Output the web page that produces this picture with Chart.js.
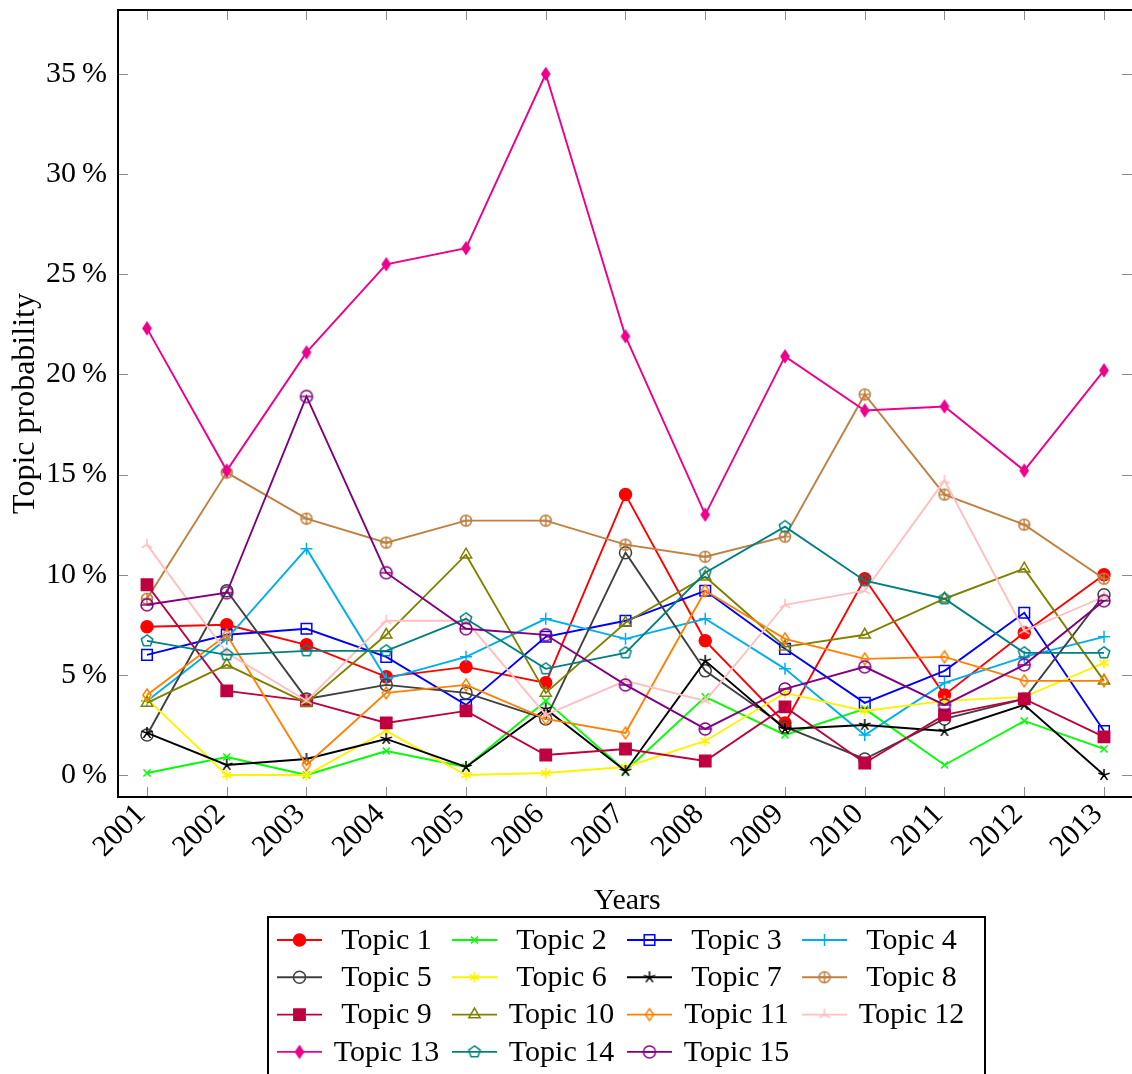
<!DOCTYPE html>
<html>
<head>
<meta charset="utf-8">
<title>Topic probability by year</title>
<script src="https://cdn.jsdelivr.net/npm/chart.js@4.4.1/dist/chart.umd.min.js"></script>
<style>
  html, body { margin: 0; padding: 0; background: #fff; overflow: hidden; }
  canvas { display: block; }
</style>
</head>
<body>
<canvas id="topicChart" width="1146" height="1074"></canvas>
<script>
// Topic probability per year, in percent
const years = [2001, 2002, 2003, 2004, 2005, 2006, 2007, 2008, 2009, 2010, 2011, 2012, 2013];
const yTicks = [0, 5, 10, 15, 20, 25, 30, 35];

const topic1  = [7.4, 7.5, 6.5, 4.9, 5.4, 4.6, 14.0, 6.7, 2.6, 9.8, 4.0, 7.1, 10.0];
const topic2  = [0.1, 0.9, 0.0, 1.2, 0.4, 3.7, 0.2, 3.9, 2.0, 3.3, 0.5, 2.7, 1.3];
const topic3  = [6.0, 7.0, 7.3, 5.9, 3.5, 6.9, 7.7, 9.2, 6.3, 3.6, 5.2, 8.1, 2.2];
const topic4  = [3.7, 6.8, 11.3, 4.8, 5.9, 7.8, 6.8, 7.8, 5.3, 2.0, 4.6, 5.9, 6.9];
const topic5  = [2.0, 9.2, 3.8, 4.5, 4.1, 2.8, 11.1, 5.2, 2.4, 0.8, 2.8, 3.8, 9.0];
const topic6  = [3.8, 0.0, 0.0, 2.2, 0.0, 0.1, 0.4, 1.7, 4.1, 3.2, 3.7, 3.9, 5.6];
const topic7  = [2.1, 0.5, 0.8, 1.8, 0.4, 3.3, 0.2, 5.7, 2.3, 2.5, 2.2, 3.5, 0.0];
const topic8  = [8.8, 15.1, 12.8, 11.6, 12.7, 12.7, 11.5, 10.9, 11.9, 19.0, 14.0, 12.5, 9.8];
const topic9  = [9.5, 4.2, 3.7, 2.6, 3.2, 1.0, 1.3, 0.7, 3.4, 0.6, 3.0, 3.8, 1.9];
const topic10 = [3.6, 5.5, 3.6, 7.0, 11.0, 4.1, 7.6, 9.9, 6.4, 7.0, 8.8, 10.3, 4.7];
const topic11 = [4.0, 7.0, 0.5, 4.1, 4.5, 2.8, 2.1, 9.2, 6.8, 5.8, 5.9, 4.7, 4.7];
const topic12 = [11.5, 6.1, 3.7, 7.7, 7.7, 3.0, 4.7, 3.7, 8.5, 9.2, 14.7, 7.2, 8.9];
const topic13 = [22.3, 15.2, 21.1, 25.5, 26.3, 35.0, 21.9, 13.0, 20.9, 18.2, 18.4, 15.2, 20.2];
const topic14 = [6.7, 6.0, 6.2, 6.2, 7.8, 5.3, 6.1, 10.1, 12.4, 9.7, 8.8, 6.1, 6.1];
const topic15 = [8.5, 9.1, 18.9, 10.1, 7.3, 7.0, 4.5, 2.3, 4.3, 5.4, 3.5, 5.5, 8.7];

const series = [topic1, topic2, topic3, topic4, topic5, topic6, topic7, topic8,
                topic9, topic10, topic11, topic12, topic13, topic14, topic15];
const colors = ['#ff0000', '#00ff00', '#0000ff', '#00aeef', '#404040', '#fff200', '#000000', '#bf8040',
                '#bf0040', '#808000', '#ff8000', '#ffbfbf', '#ec008c', '#008080', '#800080'];

const FONT = 'Liberation Serif';
const NONE = 'rgba(0,0,0,0)';
// pixel columns of the first and last year
const X_FIRST = 147, X_LAST = 1104;

// small canvases for marks Chart.js has no built-in style for
function marker(color, filled, draw) {
  const c = document.createElement('canvas');
  c.width = 18; c.height = 18;
  const g = c.getContext('2d');
  g.translate(9, 9);
  g.strokeStyle = color;
  g.fillStyle = filled ? color : NONE;
  g.lineWidth = 1.5;
  draw(g);
  return c;
}
function spokes(g, n, r) {
  g.beginPath();
  for (let k = 0; k < n; k++) {
    const a = Math.PI / 2 + k * 2 * Math.PI / n;
    g.moveTo(0, 0);
    g.lineTo(r * Math.cos(a), -r * Math.sin(a));
  }
  g.stroke();
}
function polygon(g, pts, filled) {
  g.beginPath();
  pts.forEach((p, i) => i ? g.lineTo(p[0], p[1]) : g.moveTo(p[0], p[1]));
  g.closePath();
  if (filled) g.fill();
  g.stroke();
}
const diamondPts = [[0, -6], [4, 0], [0, 6], [-4, 0]];
const pentaPts = [0, 1, 2, 3, 4].map(k => {
  const a = Math.PI / 2 + k * 2 * Math.PI / 5;
  return [6 * Math.cos(a), -6 * Math.sin(a)];
});

const marks = [
  { style: 'circle', r: 6, fill: true },
  { style: 'crossRot', r: 5 },
  { style: 'rect', r: 7.5 },
  { style: 'cross', r: 6 },
  { style: 'circle', r: 6 },
  { style: marker(colors[5], false, g => spokes(g, 6, 5.5)) },
  { style: marker(colors[6], false, g => spokes(g, 5, 6)) },
  { style: marker(colors[7], false, g => {
      g.beginPath(); g.arc(0, 0, 5.5, 0, 2 * Math.PI);
      g.moveTo(-5.5, 0); g.lineTo(5.5, 0); g.moveTo(0, -5.5); g.lineTo(0, 5.5);
      g.stroke();
    }) },
  { style: 'rect', r: 8, fill: true },
  { style: 'triangle', r: 6.5 },
  { style: marker(colors[10], false, g => polygon(g, diamondPts, false)) },
  { style: marker(colors[11], false, g => spokes(g, 3, 6)) },
  { style: marker(colors[12], true, g => polygon(g, diamondPts, true)) },
  { style: marker(colors[13], false, g => polygon(g, pentaPts, false)) },
  { style: marker(colors[14], false, g => {
      g.beginPath(); g.arc(0, 0, 6, 0, 2 * Math.PI);
      g.moveTo(-6, 0); g.lineTo(6, 0);
      g.stroke();
    }) }
];

const datasets = series.map((vals, i) => ({
  label: 'Topic ' + (i + 1),
  data: vals.map((v, j) => ({ x: years[j], y: v })),
  borderColor: colors[i],
  backgroundColor: colors[i],
  borderWidth: 1.9,
  pointStyle: marks[i].style,
  pointRadius: marks[i].r || 6,
  pointBorderWidth: 1.5,
  pointBorderColor: colors[i],
  pointBackgroundColor: marks[i].fill ? colors[i] : NONE,
  tension: 0,
  order: series.length - i
}));

// pin the year axis so the first and last year sit on fixed columns
const xFitPlugin = {
  id: 'xFit',
  afterLayout(chart) {
    const s = chart.scales.x;
    const step = (X_LAST - X_FIRST) / (years.length - 1);
    s.min = years[0] - (X_FIRST - s.left) / step;
    s.max = s.min + (s.right - s.left) / step;
    s.configure();
  }
};

// open frame plus inward tick marks on all four sides
const framePlugin = {
  id: 'frame',
  afterDatasetsDraw(chart) {
    const { ctx, chartArea: a, scales, width } = chart;
    ctx.save();
    ctx.strokeStyle = '#8c8c8c';
    ctx.lineWidth = 1;
    ctx.beginPath();
    years.forEach(v => {
      const px = Math.round(scales.x.getPixelForValue(v)) + 0.5;
      ctx.moveTo(px, a.bottom); ctx.lineTo(px, a.bottom - 10);
      ctx.moveTo(px, a.top); ctx.lineTo(px, a.top + 10);
    });
    yTicks.forEach(v => {
      const py = Math.round(scales.y.getPixelForValue(v)) + 0.5;
      ctx.moveTo(a.left, py); ctx.lineTo(a.left + 10, py);
      ctx.moveTo(width, py); ctx.lineTo(width - 24, py);
    });
    ctx.stroke();
    ctx.strokeStyle = '#000';
    ctx.lineWidth = 2;
    ctx.beginPath();
    ctx.moveTo(width, a.top); ctx.lineTo(a.left, a.top);
    ctx.lineTo(a.left, a.bottom); ctx.lineTo(width, a.bottom);
    ctx.stroke();
    ctx.restore();
  }
};

// boxed legend, four columns, below the axis title
const legendPlugin = {
  id: 'boxLegend',
  afterDraw(chart) {
    const ctx = chart.ctx;
    ctx.save();
    ctx.strokeStyle = '#000';
    ctx.lineWidth = 2;
    ctx.strokeRect(268, 917, 717, 170);
    ctx.font = '30px "' + FONT + '"';
    ctx.fillStyle = '#000';
    ctx.textAlign = 'center';
    ctx.textBaseline = 'middle';
    chart.data.datasets.forEach((ds, i) => {
      const col = i % 4, row = Math.floor(i / 4);
      const x0 = 277 + col * 175, y = 940 + row * 37.3;
      ctx.strokeStyle = ds.borderColor;
      ctx.lineWidth = 1.9;
      ctx.beginPath(); ctx.moveTo(x0, y); ctx.lineTo(x0 + 45, y); ctx.stroke();
      ctx.fillStyle = ds.pointBackgroundColor;
      ctx.lineWidth = 1.5;
      Chart.helpers.drawPoint(ctx, {
        pointStyle: ds.pointStyle, radius: ds.pointRadius, rotation: 0, borderWidth: 1.5
      }, x0 + 22.5, y);
      ctx.fillStyle = '#000';
      ctx.fillText(ds.label, 386.5 + col * 175, y + 1);
    });
    ctx.restore();
  }
};

new Chart(document.getElementById('topicChart'), {
  type: 'line',
  data: { datasets },
  plugins: [xFitPlugin, framePlugin, legendPlugin],
  options: {
    responsive: false,
    animation: false,
    devicePixelRatio: 1,
    layout: { padding: { top: 10, right: 2, left: 0, bottom: 0 } },
    plugins: { legend: { display: false }, tooltip: { enabled: false } },
    scales: {
      x: {
        type: 'linear',
        min: 2000.636,
        max: 2013.376,
        grid: { display: false, drawTicks: false },
        border: { display: false },
        afterBuildTicks: s => { s.ticks = years.map(v => ({ value: v })); },
        afterFit: s => { s.height = 277; s.paddingLeft = 0; s.paddingRight = 0; },
        ticks: {
          autoSkip: false,
          minRotation: 45,
          maxRotation: 45,
          padding: 0,
          labelOffset: -6,
          color: '#000',
          font: { family: FONT, size: 30 },
          callback: v => String(v)
        },
        title: {
          display: true,
          text: 'Years',
          color: '#000',
          font: { family: FONT, size: 30 },
          padding: { top: 0, bottom: 155 }
        }
      },
      y: {
        min: -1.098,
        max: 38.195,
        grid: { display: false, drawTicks: false },
        border: { display: false },
        afterBuildTicks: s => { s.ticks = yTicks.map(v => ({ value: v })); },
        afterFit: s => { s.width = 118; s.paddingTop = 0; s.paddingBottom = 0; },
        ticks: {
          padding: 11,
          color: '#000',
          font: { family: FONT, size: 30 },
          callback: v => v + '\u2009%'
        },
        title: {
          display: true,
          text: 'Topic probability',
          color: '#000',
          font: { family: FONT, size: 32 },
          padding: { top: 6, bottom: 0 }
        }
      }
    }
  }
});
</script>
</body>
</html>
